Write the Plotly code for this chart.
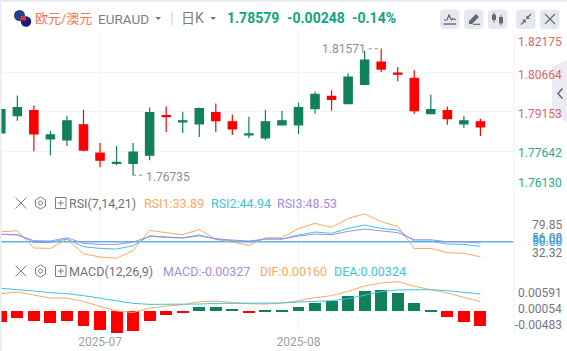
import plotly.graph_objects as go

W, H = 567, 351
FONT = "Roboto, 'Noto Sans CJK SC', sans-serif"

# ---------- data ----------
index = list(range(30))
opens = [1.78352,1.79011,1.79205,1.78120,1.78081,1.78662,1.77577,1.77190,1.77190,1.77500,1.79011,1.78778,1.78701,1.79127,1.78778,1.78275,1.78158,1.78662,1.78662,1.79282,1.79747,1.79476,1.80212,1.81064,1.80638,1.80444,1.79088,1.79205,1.78701,1.78778]
closes = [1.79243,1.79321,1.78313,1.78275,1.78817,1.77694,1.77306,1.77229,1.77616,1.79127,1.78972,1.78817,1.79282,1.78817,1.78507,1.78313,1.78778,1.78817,1.79321,1.79825,1.79631,1.80483,1.81142,1.80793,1.80599,1.79205,1.79243,1.78895,1.78817,1.78579]
highs = [1.79243,1.79786,1.79398,1.78430,1.79011,1.79243,1.77965,1.77848,1.77965,1.79321,1.79360,1.79166,1.79321,1.79476,1.79050,1.78972,1.79243,1.79205,1.79515,1.79941,1.79980,1.80638,1.81500,1.81571,1.80871,1.80754,1.79825,1.79360,1.79011,1.78895]
lows = [1.78352,1.78817,1.77655,1.77500,1.77848,1.77655,1.77035,1.77112,1.76735,1.77306,1.78391,1.78352,1.78197,1.78391,1.78275,1.78158,1.78081,1.78623,1.78313,1.79088,1.79205,1.80328,1.80173,1.80677,1.80328,1.79088,1.79088,1.78662,1.78546,1.78236]

rsi1 = [60.7,61.8,43.2,42.8,52.9,37.1,33.5,32.32,40.7,62.2,59.7,57.5,63.2,52.5,49.6,46.1,54.3,54.3,64.0,69.7,65.4,75.1,79.85,71.5,66.5,42.8,42.8,38.2,37.5,33.89]
rsi2 = [57.9,57.9,49.3,49.3,52.9,44.6,42.8,42.1,45.7,56.4,55.0,54.3,57.2,52.9,51.1,49.6,52.9,52.9,57.2,60.4,59.0,64.3,67.9,64.3,62.5,50.7,50.7,47.5,47.1,44.94]
rsi3 = [57.9,57.2,51.1,50.7,54.3,48.2,47.1,47.1,49.6,55.7,54.7,53.9,56.4,53.2,51.8,50.7,52.9,52.9,56.1,58.2,57.5,61.1,63.6,61.5,59.7,52.1,52.1,50.0,50.0,48.53]
rsi_ref = [50.0] * 2

macd_hist = [-.00236,-.00149,-.00214,-.00258,-.00214,-.00324,-.00411,-.00476,-.00433,-.00214,-.00084,-.00020,.00091,.00091,.00047,-.00020,.00015,.00015,.00091,.00178,.00222,.00331,.00440,.00462,.00396,.00178,.00015,-.00127,-.00236,-.00327]
dif = [.00374,.00411,.00345,.00280,.00280,.00207,.00098,-.00004,-.00033,.00062,.00105,.00134,.00200,.00214,.00185,.00156,.00149,.00171,.00222,.00287,.00331,.00425,.00542,.00607,.00636,.00534,.00462,.00389,.00294,.00200]
dea = [.00491,.00469,.00433,.00396,.00374,.00331,.00280,.00222,.00164,.00142,.00142,.00142,.00149,.00164,.00164,.00164,.00164,.00171,.00193,.00200,.00222,.00265,.00338,.00418,.00454,.00462,.00462,.00440,.00411,.00367]

price_ticks = [1.82175,1.80664,1.79153,1.77642,1.76130]
date_ticks = [6, 18]
date_labels = ["2025-07", "2025-08"]

UP, DOWN = "#10815a", "#ff0000"
ORANGE, CYAN, PURPLE, REF = "#fba861", "#3cc4dc", "#a78be3", "#5eb0f2"
GRID = "#f3f4f7"

# ---------- geometry helpers (page pixels -> paper) ----------
def px(x): return x / W
def py(y): return 1 - y / H

shapes, annos = [], []

def path(d_pts, color=None, fill=None, width=1.2):
    parts = []
    for c, *p in d_pts:
        if c == "Z":
            parts.append("Z")
        else:
            parts.append(c + " " + " ".join(f"{px(p[i]):.5f},{py(p[i+1]):.5f}" for i in range(0, len(p), 2)))
    shapes.append(dict(type="path", xref="paper", yref="paper", path=" ".join(parts),
                       line=dict(color=color or "rgba(0,0,0,0)", width=width),
                       fillcolor=fill or "rgba(0,0,0,0)"))

def rect(x0, y0, x1, y1, fill, r=0):
    if r:
        path([("M", x0+r, y0), ("L", x1-r, y0), ("Q", x1, y0, x1, y0+r), ("L", x1, y1-r), ("Q", x1, y1, x1-r, y1),
              ("L", x0+r, y1), ("Q", x0, y1, x0, y1-r), ("L", x0, y0+r), ("Q", x0, y0, x0+r, y0), ("Z",)], fill=fill, width=0)
    else:
        shapes.append(dict(type="rect", xref="paper", yref="paper", x0=px(x0), x1=px(x1), y0=py(y0), y1=py(y1),
                           fillcolor=fill, line=dict(width=0)))

def circle(cx, cy, r, fill=None, color=None, width=1.0):
    shapes.append(dict(type="circle", xref="paper", yref="paper", x0=px(cx-r), x1=px(cx+r), y0=py(cy+r), y1=py(cy-r),
                       fillcolor=fill or "rgba(0,0,0,0)", line=dict(color=color or "rgba(0,0,0,0)", width=width if color else 0)))

def seg(x0, y0, x1, y1, color, width=1.0):
    shapes.append(dict(type="line", xref="paper", yref="paper", x0=px(x0), x1=px(x1), y0=py(y0), y1=py(y1),
                       line=dict(color=color, width=width)))

def text(x, y, s, color, size=12, anchor="left", bold=False, font=FONT):
    annos.append(dict(xref="paper", yref="paper", x=px(x), y=py(y), text=f"<b>{s}</b>" if bold else s, showarrow=False,
                      xanchor=anchor, yanchor="middle", font=dict(family=font, size=size, color=color),
                      borderpad=0, borderwidth=0))

# ---------- page chrome ----------
rect(0, 0, W, 2, "#e7eaf1")
rect(0, 0, 1.5, H, "#e9ecf3")
seg(514, 33, 514, 333, "#eff0f4")

# flag
circle(19.5, 15.5, 5.5, fill="#23418f")
circle(26, 21.5, 5.2, fill="#1d1a78")
rect(20.5, 16, 26, 20.5, "#d8354a")
text(35, 18, "欧元/澳元", "#f2764f", 13)
text(98, 19, "EURAUD", "#7b7e8a", 13.5)
path([("M", 155.5, 17), ("L", 161, 17), ("L", 158.2, 20), ("Z",)], fill="#6d7079", width=0)
seg(172, 12, 172, 25, "#c9ccd4")
text(181, 18, "日K", "#7b7e8a", 14)
path([("M", 210.5, 17), ("L", 216, 17), ("L", 213.2, 20), ("Z",)], fill="#6d7079", width=0)
text(227, 18, "1.78579", "#0fa583", 14, bold=True)
text(287, 18, "-0.00248", "#0fa583", 14, bold=True)
text(352, 18, "-0.14%", "#0fa583", 14, bold=True)

# toolbar
for bx in (440, 464, 488, 516, 540):
    rect(bx, 9.5, bx + 19.5, 29, "#e6e8ef", r=4)
ICON = "#666975"
path([("M", 444, 20), ("L", 447, 20), ("L", 449, 15), ("L", 451.5, 20), ("L", 453, 18.5), ("L", 456, 20)], color=ICON, width=1.2)
seg(443.5, 24, 456, 24, ICON, 1.4)
path([("M", 469, 21), ("L", 476, 14), ("L", 479, 17), ("L", 472, 24), ("L", 469, 24), ("Z",)], fill=ICON, width=0)
seg(473, 24.3, 480, 24.3, ICON, 1.2)
seg(494, 12.5, 494, 22.5, ICON, 1); rect(492, 14.5, 496, 20, ICON, r=0.5)
seg(501, 15, 501, 25.5, ICON, 1); rect(499, 17, 503, 23.5, ICON, r=0.5)
path([("M", 521, 24.5), ("L", 525, 20.5)], color=ICON, width=1.2)
path([("M", 522, 19.5), ("L", 525.7, 19.5), ("L", 525.7, 23.2), ("Z",)], fill=ICON, width=0)
path([("M", 531, 14), ("L", 527, 18)], color=ICON, width=1.2)
path([("M", 530, 19), ("L", 526.3, 19), ("L", 526.3, 15.3), ("Z",)], fill=ICON, width=0)
seg(545, 14, 555, 24, ICON, 1.1); seg(555, 14, 545, 24, ICON, 1.1)

# collapse tab
path([("M", 552, 67), ("L", 567, 60), ("L", 567, 122), ("L", 552, 113), ("Z",)], fill="rgba(232,232,240,0.85)", width=0)
path([("M", 562.5, 88.5), ("L", 558, 93.5), ("L", 562.5, 98.5)], color="#686b78", width=1.6)

# indicator legends
def legend_icons(cy):
    c = "#7c7f8b"
    seg(15.5, cy-5.5, 26.5, cy+5.5, c, 1); seg(26.5, cy-5.5, 15.5, cy+5.5, c, 1)
    cx = 40.5
    path([("M", cx, cy-6), ("L", cx+5, cy-3), ("L", cx+5, cy+3), ("L", cx, cy+6), ("L", cx-5, cy+3), ("L", cx-5, cy-3), ("Z",)], color=c, width=1)
    circle(cx, cy, 2, color=c, width=1)
    shapes.append(dict(type="rect", xref="paper", yref="paper", x0=px(55.5), x1=px(66), y0=py(cy+5.5), y1=py(cy-5.5), line=dict(color=c, width=1)))
    seg(57.8, cy, 63.8, cy, c, 1); seg(60.8, cy-3, 60.8, cy+3, c, 1)

legend_icons(203)
legend_icons(271)
text(69, 203, "RSI(7,14,21)", "#6f727c", 12.5)
text(144, 203, "RSI1:33.89", ORANGE, 12.5)
text(211, 203, "RSI2:44.94", CYAN, 12.5)
text(277, 203, "RSI3:48.53", PURPLE, 12.5)
text(69, 271, "MACD(12,26,9)", "#6f727c", 12.5)
text(163, 271, "MACD:-0.00327", PURPLE, 12.5)
text(260, 271, "DIF:0.00160", ORANGE, 12.5)
text(334, 271, "DEA:0.00324", CYAN, 12.5)

# axis value labels (offset from their true levels, as in the reference)
RIGHT = 562
for y_, s, c in [(42, "1.82175", "#e2606e"), (74.5, "1.80664", "#e2606e"), (113.5, "1.79153", "#e2606e"),
                 (153.5, "1.77642", "#25a98a"), (183, "1.76130", "#25a98a")]:
    text(RIGHT, y_, s, c, 12, anchor="right")
for y_, s in [(225, "79.85"), (237.5, "56.08"), (252.5, "32.32")]:
    text(RIGHT, y_, s, "#73767f", 12, anchor="right")
text(RIGHT, 240, "50.00", "#4aa9ef", 12, anchor="right")
text(RIGHT, 242.5, "50.00", "#4aa9ef", 12, anchor="right")
for y_, s in [(293, "0.00591"), (309, "0.00054"), (325, "-0.00483")]:
    text(RIGHT, y_, s, "#73767f", 12, anchor="right")

# extreme price labels, tied to the data
LEADER = "#8b8e99"
annos.append(dict(xref="x", yref="y", x=23, y=highs[23], text="1.81571", showarrow=False, xanchor="right", yanchor="middle",
                  xshift=-13, yshift=0, font=dict(family=FONT, size=12, color="#8b8e99")))
annos.append(dict(xref="x", yref="y", x=8, y=lows[8], text="1.76735", showarrow=False, xanchor="left", yanchor="middle",
                  xshift=11, yshift=-2, font=dict(family=FONT, size=12, color="#8b8e99")))
shapes.append(dict(type="line", xref="x", yref="y", x0=22.25, x1=23, y0=highs[23], y1=highs[23], line=dict(color=LEADER, width=1, dash="dot")))
shapes.append(dict(type="line", xref="x", yref="y", x0=8, x1=8.6, y0=lows[8], y1=lows[8], line=dict(color=LEADER, width=1, dash="dot")))

# ---------- traces ----------
fig = go.Figure()
fig.add_trace(go.Candlestick(x=index, open=opens, high=highs, low=lows, close=closes, whiskerwidth=0,
                             increasing=dict(line=dict(color=UP, width=1.2), fillcolor=UP),
                             decreasing=dict(line=dict(color=DOWN, width=1.2), fillcolor=DOWN),
                             xaxis="x", yaxis="y", showlegend=False))
fig.add_trace(go.Scatter(x=[-1, 31], y=rsi_ref, mode="lines", line=dict(color=REF, width=1.6), xaxis="x2", yaxis="y2", showlegend=False))
for s, c in ((rsi1, ORANGE), (rsi2, CYAN), (rsi3, PURPLE)):
    fig.add_trace(go.Scatter(x=index, y=s, mode="lines", line=dict(color=c, width=1), xaxis="x2", yaxis="y2", showlegend=False))
fig.add_trace(go.Bar(x=index, y=macd_hist, width=0.72, marker=dict(color=[UP if v > 0 else DOWN for v in macd_hist], line=dict(width=0)),
                     xaxis="x3", yaxis="y3", showlegend=False))
for s, c in ((dif, ORANGE), (dea, CYAN)):
    fig.add_trace(go.Scatter(x=index, y=s, mode="lines", line=dict(color=c, width=1), xaxis="x3", yaxis="y3", showlegend=False))

# ---------- axes ----------
PLOT_R = 514
x_lo = -0.048
x_hi = 31.03
def xax(anchor, labels=False):
    return dict(domain=[0, px(PLOT_R)], range=[x_lo, x_hi], anchor=anchor, tickmode="array", tickvals=date_ticks,
                ticktext=date_labels, showticklabels=labels, showgrid=True, gridcolor=GRID, gridwidth=1, zeroline=False,
                showline=False, ticks="", rangeslider=dict(visible=False),
                tickfont=dict(family=FONT, size=12, color="#9c9fa9"))
def yax(anchor, top, bottom, rng, ticks):
    return dict(domain=[py(bottom), py(top)], range=rng, anchor=anchor, tickmode="array", tickvals=ticks,
                showticklabels=False, showgrid=True, gridcolor=GRID, gridwidth=1, zeroline=False, showline=False, ticks="")

fig.update_layout(
    width=W, height=H, margin=dict(l=0, r=0, t=0, b=0), paper_bgcolor="white", plot_bgcolor="white",
    showlegend=False, boxgap=0.28, bargap=0, dragmode=False, hovermode=False,
    xaxis=xax("y"), xaxis2=xax("y2"), xaxis3=xax("y3", True),
    yaxis=yax("x", 33, 191, [1.7613, 1.82175], price_ticks),
    yaxis2=yax("x2", 191, 260.7, [29.6, 104.5], [29.6, 104.5]),
    yaxis3=yax("x3", 260.7, 333.3, [-.00486, .0109], [-.00486, .0109]),
    shapes=shapes, annotations=annos,
)
fig.write_html("out.html", config=dict(displayModeBar=False, responsive=False),
               post_script="document.body.style.margin='0';document.documentElement.style.overflow='hidden';")
